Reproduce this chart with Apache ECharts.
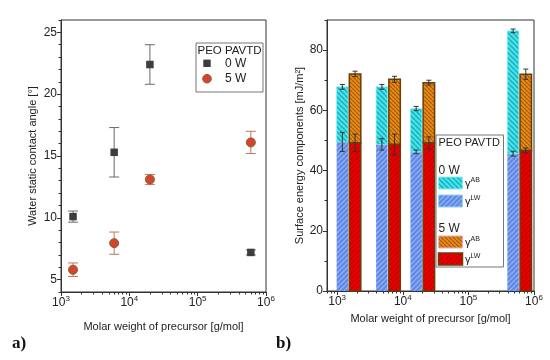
<!DOCTYPE html>
<html><head><meta charset="utf-8">
<script src="https://cdn.jsdelivr.net/npm/echarts@6/dist/echarts.min.js"></script>
<style>html,body{margin:0;padding:0;background:#fff}#c{width:550px;height:360px}</style>
</head><body><div id="c"></div>
<script>
// ---- data: (a) water static contact angle ----
const molarWeight = [1500, 6000, 20000, 600000];
const angle0W = [10.1, 15.3, 22.4, 7.2];
const angle0WErr = [0.45, 2.0, 1.6, 0.2];
const angle5W = [5.8, 7.95, 13.1, 16.1];
const angle5WErr = [0.55, 0.9, 0.4, 0.9];
// ---- data: (b) surface energy components ----
const lw0W = [49.5, 48.7, 46.2, 45.6];
const lw0WErr = [3.2, 1.9, 0.6, 0.8];
const total0W = [67.8, 67.8, 60.6, 86.4];
const total0WErr = [0.8, 0.8, 0.7, 0.6];
const lw5W = [49.2, 48.7, 49.2, 46.7];
const lw5WErr = [2.9, 3.4, 2.0, 0.8];
const total5W = [72.1, 70.3, 69.2, 72.0];
const total5WErr = [0.9, 1.0, 0.8, 1.7];
// ---- ticks ----
const decadeTicks = [1000, 10000, 100000, 1000000];
const minorXTicks = [700, 800, 900, 2000, 3000, 4000, 5000, 6000, 7000, 8000, 9000,
  20000, 30000, 40000, 50000, 60000, 70000, 80000, 90000,
  200000, 300000, 400000, 500000, 600000, 700000, 800000, 900000];
const leftYTicks = [5, 10, 15, 20, 25];
const leftYMinor = [4, 6, 7, 8, 9, 11, 12, 13, 14, 16, 17, 18, 19, 21, 22, 23, 24, 26];
const rightYTicks = [0, 20, 40, 60, 80];
const rightYMinor = [10, 30, 50, 70, 90];

const FONT = 'Liberation Sans, Arial, sans-serif';
const TXT = '#222';

function hatch(bg, fg, dir, size, lw) {
  const c = document.createElement('canvas');
  c.width = size; c.height = size;
  const g = c.getContext('2d');
  g.fillStyle = bg; g.fillRect(0, 0, size, size);
  g.strokeStyle = fg; g.lineWidth = lw;
  for (const k of [-size, 0, size]) {
    g.beginPath();
    if (dir === '/') { g.moveTo(k, size); g.lineTo(k + size, 0); }
    else { g.moveTo(k, 0); g.lineTo(k + size, size); }
    g.stroke();
  }
  return { image: c, repeat: 'repeat' };
}
const patCyan = hatch('#45e3ea', '#18a9b8', '\\', 5, 1.3);
const patBlue = hatch('#5f88e6', '#93b2f4', '/', 5, 1.3);
const patOrange = hatch('#e98b12', '#a0590e', '\\', 4, 1.1);
const patRed = hatch('#e60202', '#c20000', '/', 5, 1.2);

const BW = 11.5, GAP = 1.2;
const OFF = (BW + GAP) / 2;

function barSeries(name, lows, highs, fill, stroke, lw, offset) {
  return {
    type: 'custom', name: name, xAxisIndex: 2, yAxisIndex: 2, z: 2, silent: true,
    data: molarWeight.map((m, i) => [m, lows ? lows[i] : 0, highs[i]]),
    encode: { x: 0, y: [1, 2] },
    renderItem: function (params, api) {
      const p0 = api.coord([api.value(0), api.value(1)]);
      const p1 = api.coord([api.value(0), api.value(2)]);
      const x = p0[0] + offset - BW / 2;
      return { type: 'rect', shape: { x: x, y: p1[1], width: BW, height: p0[1] - p1[1] },
        style: { fill: fill, stroke: stroke, lineWidth: lw } };
    }
  };
}

function errSeries(xi, yi, vals, errs, cap, color, offset, z) {
  return {
    type: 'custom', xAxisIndex: xi, yAxisIndex: yi, z: z, silent: true,
    data: molarWeight.map((m, i) => [m, vals[i] - errs[i], vals[i] + errs[i]]),
    encode: { x: 0, y: [1, 2] },
    renderItem: function (params, api) {
      const lo = api.coord([api.value(0), api.value(1)]);
      const hi = api.coord([api.value(0), api.value(2)]);
      const x = lo[0] + offset;
      const st = { stroke: color, lineWidth: 1 };
      return { type: 'group', children: [
        { type: 'line', shape: { x1: x, y1: lo[1], x2: x, y2: hi[1] }, style: st },
        { type: 'line', shape: { x1: x - cap / 2, y1: lo[1], x2: x + cap / 2, y2: lo[1] }, style: st },
        { type: 'line', shape: { x1: x - cap / 2, y1: hi[1], x2: x + cap / 2, y2: hi[1] }, style: st }
      ] };
    }
  };
}

const supRich = {
  b: { fontSize: 12, fontFamily: FONT, color: TXT, lineHeight: 16 },
  s: { fontSize: 8, fontFamily: FONT, color: TXT, lineHeight: 8, verticalAlign: 'top' }
};
function decadeLabel(v) { return '{b|10}{s|' + Math.round(Math.log10(v)) + '}'; }

function mainX(grid, min, name, nameGap) {
  return {
    type: 'log', logBase: 10, gridIndex: grid, min: min, max: 1000000, position: 'bottom',
    name: name, nameLocation: 'middle', nameGap: nameGap,
    nameTextStyle: { fontSize: 11, fontFamily: FONT, color: TXT },
    axisLine: { lineStyle: { color: '#333', width: 1 } },
    axisTick: { customValues: decadeTicks, length: 4, lineStyle: { color: '#333' } },
    axisLabel: { customValues: decadeTicks, formatter: decadeLabel, rich: supRich, margin: 3 },
    splitLine: { show: false }, minorTick: { show: false }
  };
}
function minorX(grid, min) {
  return {
    type: 'log', logBase: 10, gridIndex: grid, min: min, max: 1000000, position: 'bottom',
    axisLine: { show: false }, axisLabel: { show: false }, splitLine: { show: false },
    axisTick: { customValues: minorXTicks.filter(v => v >= min), length: 2.5, lineStyle: { color: '#333' } }
  };
}
function mainY(grid, min, max, ticks, name, nameGap) {
  return {
    type: 'value', gridIndex: grid, min: min, max: max, position: 'left',
    name: name, nameLocation: 'middle', nameGap: nameGap,
    nameTextStyle: { fontSize: 11, fontFamily: FONT, color: TXT },
    axisLine: { show: true, lineStyle: { color: '#333', width: 1 } },
    axisTick: { show: true, customValues: ticks, length: 4, lineStyle: { color: '#333' } },
    axisLabel: { customValues: ticks, fontSize: 12, fontFamily: FONT, color: TXT, margin: 4 },
    splitLine: { show: false }
  };
}
function minorY(grid, min, max, ticks) {
  return {
    type: 'value', gridIndex: grid, min: min, max: max, position: 'left',
    axisLine: { show: false }, axisLabel: { show: false }, splitLine: { show: false },
    axisTick: { show: true, customValues: ticks, length: 2.5, lineStyle: { color: '#333' } }
  };
}

const legRich = { g: { fontSize: 11, fontFamily: FONT, fill: TXT, lineHeight: 14 }, s: { fontSize: 7, fontFamily: FONT, fill: TXT, lineHeight: 7, verticalAlign: 'top' } };

const chart = echarts.init(document.getElementById('c'), null, { renderer: 'canvas' });
const option = {
  animation: false,
  backgroundColor: '#fff',
  grid: [
    { left: 61, right: 284, top: 20, bottom: 68, show: true, borderColor: '#333', borderWidth: 1, backgroundColor: 'transparent' },
    { left: 327, right: 16, top: 20, bottom: 69, show: true, borderColor: '#333', borderWidth: 1, backgroundColor: 'transparent' }
  ],
  xAxis: [
    mainX(0, 1000, 'Molar weight of precursor [g/mol]', 29),
    minorX(0, 1000),
    mainX(1, 700, 'Molar weight of precursor [g/mol]', 22),
    minorX(1, 700)
  ],
  yAxis: [
    mainY(0, 4, 26, leftYTicks, 'Water static contact angle [°]', 23),
    minorY(0, 4, 26, leftYMinor),
    mainY(1, 0, 90, rightYTicks, 'Surface energy components [mJ/m²]', 21),
    minorY(1, 0, 90, rightYMinor)
  ],
  series: [
    errSeries(0, 0, angle0W, angle0WErr, 10, '#6a6a6a', 0, 1),
    errSeries(0, 0, angle5W, angle5WErr, 10, '#b97a5c', 0, 1),
    { type: 'scatter', name: '0 W', xAxisIndex: 0, yAxisIndex: 0, z: 3, symbol: 'rect', symbolSize: 7.5,
      data: molarWeight.map((m, i) => [m, angle0W[i]]), itemStyle: { color: '#3d3d3d', opacity: 1 } },
    { type: 'scatter', name: '5 W', xAxisIndex: 0, yAxisIndex: 0, z: 3, symbol: 'circle', symbolSize: 9,
      data: molarWeight.map((m, i) => [m, angle5W[i]]), itemStyle: { color: '#d3452f', borderColor: '#8d5a2c', borderWidth: 1, opacity: 1 } },

    barSeries('0 W γLW', null, lw0W, patBlue, null, 0, -OFF),
    barSeries('0 W γAB', lw0W, total0W, patCyan, '#8cecf2', 0.8, -OFF),
    barSeries('5 W γLW', null, lw5W, patRed, '#6b3d0c', 1.5, OFF),
    barSeries('5 W γAB', lw5W, total5W, patOrange, '#6b3d0c', 1.5, OFF),

    errSeries(2, 2, lw0W, lw0WErr, 5, '#333', -OFF, 5),
    errSeries(2, 2, total0W, total0WErr, 5, '#333', -OFF, 5),
    errSeries(2, 2, lw5W, lw5WErr, 5, '#333', OFF, 5),
    errSeries(2, 2, total5W, total5WErr, 5, '#333', OFF, 5)
  ],
  graphic: [
    // legend (a)
    { type: 'rect', z: 50, shape: { x: 196, y: 43, width: 67, height: 49 }, style: { fill: '#fff', stroke: '#777', lineWidth: 1 } },
    { type: 'text', z: 51, x: 197.5, y: 51, style: { text: 'PEO PAVTD', font: '11.5px ' + FONT, fill: TXT, verticalAlign: 'middle' } },
    { type: 'rect', z: 51, shape: { x: 203.3, y: 59.6, width: 7.4, height: 7.4 }, style: { fill: '#3d3d3d' } },
    { type: 'circle', z: 51, shape: { cx: 207, cy: 78.7, r: 4.3 }, style: { fill: '#d3452f', stroke: '#8d5a2c', lineWidth: 1 } },
    { type: 'text', z: 51, x: 225, y: 63.5, style: { text: '0 W', font: '12px ' + FONT, fill: TXT, verticalAlign: 'middle' } },
    { type: 'text', z: 51, x: 225, y: 79, style: { text: '5 W', font: '12px ' + FONT, fill: TXT, verticalAlign: 'middle' } },
    // legend (b)
    { type: 'rect', z: 50, shape: { x: 436, y: 135, width: 67.5, height: 132 }, style: { fill: '#fff', stroke: '#777', lineWidth: 1 } },
    { type: 'text', z: 51, x: 438.5, y: 143, style: { text: 'PEO PAVTD', font: '11px ' + FONT, fill: TXT, verticalAlign: 'middle' } },
    { type: 'text', z: 51, x: 438.5, y: 171, style: { text: '0 W', font: '12px ' + FONT, fill: TXT, verticalAlign: 'middle' } },
    { type: 'rect', z: 51, shape: { x: 438.5, y: 177, width: 24, height: 12 }, style: { fill: patCyan, stroke: '#8cecf2', lineWidth: 1 } },
    { type: 'rect', z: 51, shape: { x: 438.5, y: 195, width: 24, height: 12 }, style: { fill: patBlue, stroke: '#8fd8f0', lineWidth: 1 } },
    { type: 'text', z: 51, x: 465, y: 184, style: { text: '{g|γ}{s|AB}', verticalAlign: 'middle', rich: legRich } },
    { type: 'text', z: 51, x: 465, y: 202, style: { text: '{g|γ}{s|LW}', verticalAlign: 'middle', rich: legRich } },
    { type: 'text', z: 51, x: 438.5, y: 228.5, style: { text: '5 W', font: '12px ' + FONT, fill: TXT, verticalAlign: 'middle' } },
    { type: 'rect', z: 51, shape: { x: 438.5, y: 236, width: 24, height: 12 }, style: { fill: patOrange, stroke: '#f0a8d8', lineWidth: 1 } },
    { type: 'rect', z: 51, shape: { x: 438.5, y: 253, width: 24, height: 12 }, style: { fill: patRed, stroke: '#6b3d0c', lineWidth: 1.5 } },
    { type: 'text', z: 51, x: 465, y: 243, style: { text: '{g|γ}{s|AB}', verticalAlign: 'middle', rich: legRich } },
    { type: 'text', z: 51, x: 465, y: 260, style: { text: '{g|γ}{s|LW}', verticalAlign: 'middle', rich: legRich } },
    // panel labels
    { type: 'text', x: 12, y: 344, style: { text: 'a)', font: 'bold 17px Liberation Serif, DejaVu Serif, serif', fill: '#111', verticalAlign: 'middle' } },
    { type: 'text', x: 276, y: 344, style: { text: 'b)', font: 'bold 17px Liberation Serif, DejaVu Serif, serif', fill: '#111', verticalAlign: 'middle' } }
  ]
};
chart.setOption(option);
</script>
</body></html>
